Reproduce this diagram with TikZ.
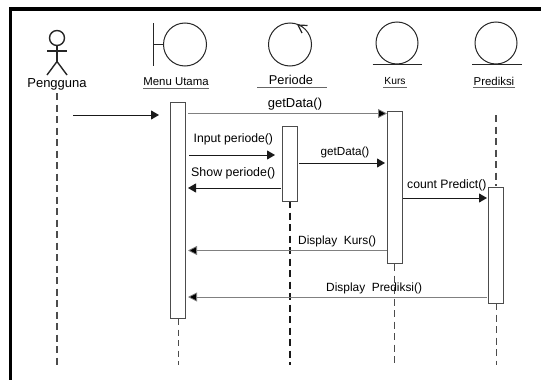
\documentclass[tikz,border=0pt]{standalone}
\usepackage{fontspec}
\setmainfont{Liberation Sans}
\usetikzlibrary{arrows.meta}
\tikzset{
  x=1pt,y=-1pt,
  lbl/.style={inner sep=0pt,font=\fontsize{#1}{#1}\selectfont,text=black},
  shapeline/.style={draw=black!85,line width=1pt},
  bar/.style={draw=black!70,fill=white,line width=1pt,minimum width=15pt,inner sep=0pt,anchor=north},
  life/.style={draw=black!70,line width=1.1pt,dash pattern=on 7pt off 4.5pt},
  msg/.style={draw=black!90,line width=1pt,-{Triangle[length=8pt,width=9pt]}},
  msgthin/.style={draw=black!50,line width=.8pt,-{Triangle[length=9pt,width=9pt,fill=black]}},
  under/.style={draw=black!60,line width=1pt},
}
\begin{document}
\begin{tikzpicture}
\useasboundingbox (0,0) rectangle (541,380);
% frame
\fill[black] (8.5,7) rectangle (541,11);
\fill[black] (8.5,7) rectangle (12,380);

% actor
\node[shapeline,line width=1.4pt,circle,minimum size=15pt,inner sep=0pt] (head) at (57,38) {};
\coordinate (hip) at (57,61.5);
\coordinate (armL) at (47,51);
\coordinate (armR) at (67,51);
\coordinate (legL) at (47,75);
\coordinate (legR) at (67,75);
\draw[shapeline,line width=1.4pt] (head.south) -- (hip);
\draw[shapeline,line width=1.4pt] (armL) -- (armR);
\draw[shapeline,line width=1.4pt] (legL) -- (hip) -- (legR);
\node[lbl=13] (lPeng) at (57,84) {Pengguna};

% Menu Utama boundary
\node[shapeline,circle,minimum size=43pt,inner sep=0pt] (cMenu) at (185,44.5) {};
\coordinate (mTop) at (153,23);
\coordinate (mBot) at (153,66);
\coordinate (mMid) at (153,44.5);
\draw[shapeline] (mTop) -- (mBot);
\draw[shapeline] (mMid) -- (cMenu.west);
\node[lbl=11.4] (lMenu) at (176,82) {Menu Utama};
\coordinate (uMa) at (143,88.5); \coordinate (uMb) at (209,88.5);
\draw[under] (uMa) -- (uMb);

% Periode control
\node[shapeline,circle,minimum size=43pt,inner sep=0pt] (cPer) at (290,44.5) {};
\coordinate (pArrA) at (298,25);
\coordinate (pArrB) at (302,33);
\coordinate (pArrC) at (307.5,25.5);
\draw[shapeline,line width=1.2pt] (pArrA) -- (pArrB);
\draw[shapeline,line width=1.2pt] (pArrA) -- (pArrC);
\node[lbl=12.8] (lPer) at (291,80) {Periode};
\coordinate (uPa) at (257,87); \coordinate (uPb) at (327,87);
\draw[under] (uPa) -- (uPb);

% Kurs entity
\node[shapeline,circle,minimum size=42pt,inner sep=0pt] (cKurs) at (397,43) {};
\coordinate (kA) at (372.5,64.3); \coordinate (kB) at (422,64.3);
\draw[shapeline] (kA) -- (kB);
\node[lbl=10.3] (lKurs) at (395,81.5) {Kurs};
\coordinate (uKa) at (383,87); \coordinate (uKb) at (407,87);
\draw[under,line width=.8pt] (uKa) -- (uKb);

% Prediksi entity
\node[shapeline,circle,minimum size=42pt,inner sep=0pt] (cPred) at (496,43) {};
\coordinate (pA) at (472,64.3); \coordinate (pB) at (521.5,64.3);
\draw[shapeline] (pA) -- (pB);
\node[lbl=11.4] (lPred) at (494,81.5) {Prediksi};
\coordinate (uRa) at (473,87.5); \coordinate (uRb) at (515,87.5);
\draw[under,line width=.8pt] (uRa) -- (uRb);

% lifelines
\coordinate (lf1a) at (57,93);   \coordinate (lf1b) at (57,365);
\coordinate (lf2b) at (178,365);
\coordinate (lf3b) at (290,365);
\coordinate (lf4b) at (394.5,365);
\coordinate (lf5a) at (496,115); \coordinate (lf5b) at (496,365);
\draw[life,line width=1.5pt] (lf1a) -- (lf1b);
\draw[life,line width=.9pt,dash pattern=on 6pt off 4.5pt] (178,319) -- (lf2b);
\draw[life,draw=black!90] (290,201) -- (lf3b);
\draw[life,line width=1.3pt] (394.5,264) -- (lf4b);
\draw[life] (lf5a) -- (496,186);
\draw[life,line width=.9pt] (496,303) -- (lf5b);

% activations
\node[bar,minimum height=216pt] (aMenu) at (177.5,102) {};
\node[bar,minimum height=75pt]  (aPer)  at (289.5,125.5) {};
\node[bar,minimum height=152pt] (aKurs) at (394.5,111) {};
\node[bar,minimum height=116pt] (aPred) at (495.5,186.5) {};

% message ends
\coordinate (f0) at (73,115);   \coordinate (f1) at (159,115);
\coordinate (g0) at (188,113.5); \coordinate (g1) at (387,113.5);
\coordinate (i0) at (189,155);  \coordinate (i1) at (275,155);
\coordinate (s0) at (281,188);  \coordinate (s1) at (188,188);
\coordinate (d0) at (299,163);  \coordinate (d1) at (385,163);
\coordinate (c0) at (403,198);  \coordinate (c1) at (487,198);
\coordinate (k0) at (387,250.5);  \coordinate (k1) at (188,250.5);
\coordinate (r0) at (487,297);  \coordinate (r1) at (188,297);

\draw[msg] (f0) -- (f1);
\draw[msgthin] (g0) -- (g1);
\draw[msg] (i0) -- (i1);
\draw[msg] (s0) -- (s1);
\draw[msg] (d0) -- (d1);
\draw[msg] (c0) -- (c1);
\draw[msgthin] (k0) -- (k1);
\draw[msgthin] (r0) -- (r1);

% message labels
\node[lbl=13] (t1) at (295,104.5) {getData()};
\node[lbl=11.7] (t2) at (345,152) {getData()};
\node[lbl=12.2,anchor=west] (t3) at (193.5,139.5) {Input periode()};
\node[lbl=12.4,anchor=west] (t4) at (191,173) {Show periode()};
\node[lbl=12.2,anchor=west] (t5) at (407,185) {count Predict()};
\node[lbl=11.9,anchor=west] (t6) at (298,241) {Display\ \ Kurs()};
\node[lbl=11.9,anchor=west] (t7) at (326,288) {Display\ \ Prediksi()};
\end{tikzpicture}
\end{document}
